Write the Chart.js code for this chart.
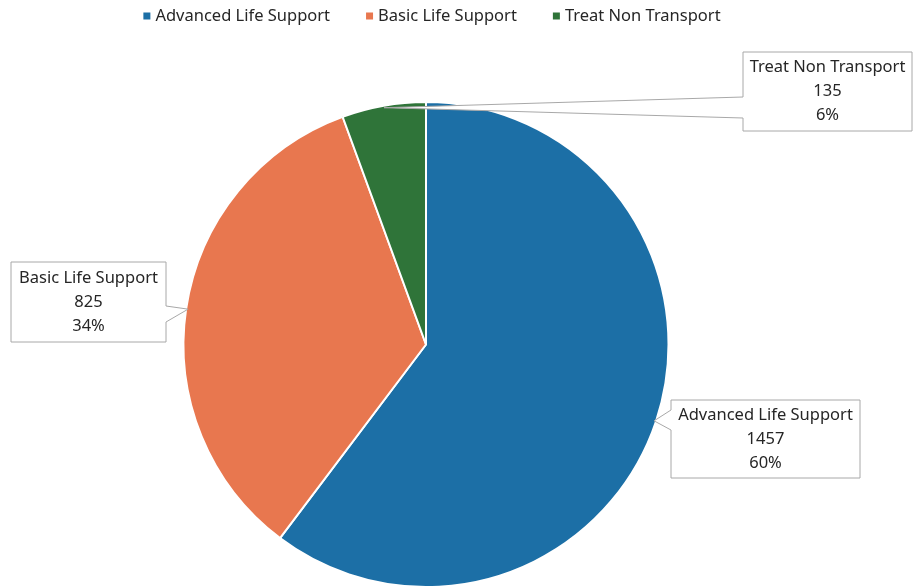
<!DOCTYPE html>
<html>
<head>
<meta charset="utf-8">
<script src="https://cdn.jsdelivr.net/npm/chart.js@4"></script>
<style>
  html, body { margin: 0; padding: 0; background: #fff; }
  #wrap { width: 916px; height: 588px; position: relative; }
</style>
</head>
<body>
<div id="wrap"><canvas id="pie"></canvas></div>
<script>
const categories = ['Advanced Life Support', 'Basic Life Support', 'Treat Non Transport'];
const counts = [1457, 825, 135];
const colors = ['#1c6fa6', '#e8774f', '#2f7439'];

const FONT = '"Noto Sans", sans-serif';
const FSIZE = 16.5;
const total = counts.reduce((a, b) => a + b, 0);

// callout boxes: rect + side with notch (layout only)
const boxes = [
  { x: 671, y: 400, w: 189, h: 78, side: 'left', n1: 410, n2: 430 },
  { x: 11, y: 262, w: 155, h: 80, side: 'right', n1: 306, n2: 322 },
  { x: 743, y: 52, w: 169, h: 79, side: 'left', n1: 97, n2: 118 }
];

// legend drawn on the canvas, spaced like the original
const legendPlugin = {
  id: 'topLegend',
  afterDraw(chart) {
    const ctx = chart.ctx;
    ctx.save();
    ctx.font = FSIZE + 'px ' + FONT;
    ctx.textBaseline = 'middle';
    ctx.textAlign = 'left';
    const gap = 36, box = 7, pad = 5;
    const widths = categories.map(c => box + pad + ctx.measureText(c).width);
    const full = widths.reduce((a, b) => a + b, 0) + gap * (categories.length - 1);
    let x = 432 - full / 2;
    const y = 16;
    categories.forEach((c, i) => {
      ctx.fillStyle = colors[i];
      ctx.fillRect(x, y - box / 2, box, box);
      ctx.fillStyle = '#262626';
      ctx.fillText(c, x + box + pad, y);
      x += widths[i] + gap;
    });
    ctx.restore();
  }
};

const calloutPlugin = {
  id: 'callouts',
  afterDatasetsDraw(chart) {
    const ctx = chart.ctx;
    const meta = chart.getDatasetMeta(0);
    meta.data.forEach((arc, i) => {
      const p = arc.getProps(['x', 'y', 'startAngle', 'endAngle', 'outerRadius'], true);
      const mid = (p.startAngle + p.endAngle) / 2;
      const tx = p.x + Math.cos(mid) * (p.outerRadius - 2);
      const ty = p.y + Math.sin(mid) * (p.outerRadius - 2);
      const b = boxes[i];
      ctx.save();
      ctx.beginPath();
      if (b.side === 'left') {
        ctx.moveTo(b.x, b.y);
        ctx.lineTo(b.x + b.w, b.y);
        ctx.lineTo(b.x + b.w, b.y + b.h);
        ctx.lineTo(b.x, b.y + b.h);
        ctx.lineTo(b.x, b.n2);
        ctx.lineTo(tx, ty);
        ctx.lineTo(b.x, b.n1);
      } else {
        ctx.moveTo(b.x, b.y);
        ctx.lineTo(b.x + b.w, b.y);
        ctx.lineTo(b.x + b.w, b.n1);
        ctx.lineTo(tx, ty);
        ctx.lineTo(b.x + b.w, b.n2);
        ctx.lineTo(b.x + b.w, b.y + b.h);
        ctx.lineTo(b.x, b.y + b.h);
      }
      ctx.closePath();
      ctx.fillStyle = '#fff';
      ctx.fill();
      ctx.strokeStyle = '#a8a8a8';
      ctx.lineWidth = 1;
      ctx.stroke();

      const pct = Math.round(counts[i] / total * 100) + '%';
      const lines = [categories[i], String(counts[i]), pct];
      ctx.fillStyle = '#262626';
      ctx.font = FSIZE + 'px ' + FONT;
      ctx.textAlign = 'center';
      ctx.textBaseline = 'middle';
      const cx = b.x + b.w / 2;
      const lh = 24;
      const cy = b.y + b.h / 2;
      lines.forEach((t, k) => ctx.fillText(t, cx, cy + (k - 1) * lh));
      ctx.restore();
    });
  }
};

new Chart(document.getElementById('pie'), {
  type: 'pie',
  data: {
    labels: categories,
    datasets: [{
      data: counts,
      backgroundColor: colors,
      borderColor: '#ffffff',
      borderWidth: 2
    }]
  },
  options: {
    responsive: true,
    maintainAspectRatio: false,
    animation: false,
    layout: { padding: { left: 0, right: 64, top: 101, bottom: 0 } },
    plugins: {
      tooltip: { enabled: false },
      legend: { display: false }
    }
  },
  plugins: [calloutPlugin, legendPlugin]
});
</script>
</body>
</html>
